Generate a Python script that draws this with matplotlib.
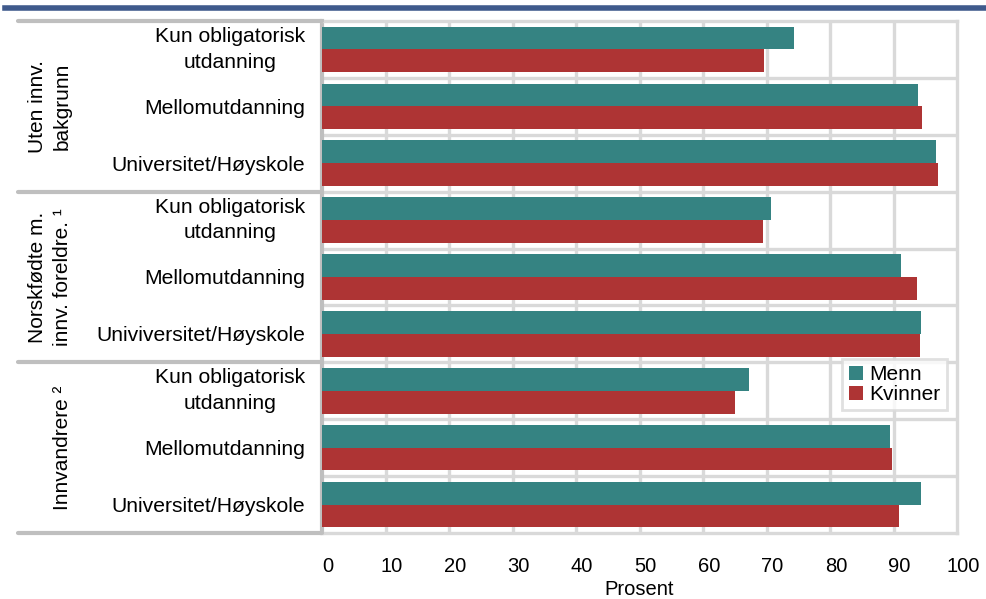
import matplotlib
matplotlib.use("Agg")
import matplotlib.pyplot as plt
import matplotlib.transforms as mtransforms
from matplotlib.lines import Line2D
import numpy as np

plt.rcParams['font.family'] = ['Liberation Sans', 'DejaVu Sans']

# data
groups = ["Uten innv.\nbakgrunn", "Norskfødte m.\ninnv. foreldre. \u00b9", "Innvandrere \u00b2"]
categories = [
    "Kun obligatorisk\nutdanning", "Mellomutdanning", "Universitet/Høyskole",
    "Kun obligatorisk\nutdanning", "Mellomutdanning", "Univiversitet/Høyskole",
    "Kun obligatorisk\nutdanning", "Mellomutdanning", "Universitet/Høyskole",
]
menn = [74.3, 93.9, 96.7, 70.7, 91.2, 94.3, 67.2, 89.5, 94.4]
kvinner = [69.6, 94.5, 97.0, 69.4, 93.7, 94.2, 65.1, 89.7, 90.9]
xticks = list(range(0, 101, 10))

teal = '#358382'
red = '#ae3434'
grid_c = '#d9d9d9'
sep_c = '#bfbfbf'

fig = plt.figure(figsize=(9.86, 5.99), dpi=100)
ax = fig.add_axes([322 / 986, 1 - 533 / 599, 635 / 986, 512 / 599])

y = np.arange(len(categories))
h = 0.4
ax.barh(y - h / 2, menn, height=h, color=teal, label='Menn', zorder=3)
ax.barh(y + h / 2, kvinner, height=h, color=red, label='Kvinner', zorder=3)

ax.set_xlim(0, 100)
ax.set_ylim(len(categories) - 0.5, -0.5)

# grid
for xv in xticks[1:-1]:
    ax.axvline(xv, color=grid_c, lw=2.4, zorder=1)
for yv in np.arange(0.5, len(categories) - 0.5, 1):
    ax.axhline(yv, color=grid_c, lw=2.4, zorder=1)

for s in ['top', 'right', 'bottom']:
    ax.spines[s].set_color(grid_c)
    ax.spines[s].set_linewidth(2.4)
ax.spines['left'].set_color(sep_c)
ax.spines['left'].set_linewidth(3)

ax.set_xticks(xticks)
ax.set_xticklabels([str(v) for v in xticks])
ax.set_yticks(y)
ax.set_yticklabels(categories, multialignment='center', linespacing=1.45)
ax.tick_params(axis='x', length=0, pad=17, labelsize=14.5)
ax.tick_params(axis='y', length=0, pad=12, labelsize=15.2)
ax.set_xlabel('Prosent', fontsize=14.5, labelpad=3)

# two-line labels: centre the whole block on the category
for lbl in ax.get_yticklabels():
    if '\n' in lbl.get_text():
        lbl.set_va('center')

# x tick labels sit a little right of the gridlines in the original
shift = mtransforms.ScaledTranslation(6 / 100, 0, fig.dpi_scale_trans)
for lbl in ax.get_xticklabels():
    lbl.set_transform(lbl.get_transform() + shift)

# group separators on the left
tr = mtransforms.blended_transform_factory(fig.transFigure, ax.transData)
for yb in [-0.5, 2.5, 5.5, 8.5]:
    ax.add_line(Line2D([18 / 986, 322 / 986], [yb, yb], transform=tr, color=sep_c,
                       lw=3, solid_capstyle='round', clip_on=False, zorder=4))

group_x = [50 / 986, 50 / 986, 63 / 986]
for i, g in enumerate(groups):
    ax.text(group_x[i], 3 * i + 1, g, transform=tr, rotation=90, ha='center', va='center',
            fontsize=15, multialignment='center', linespacing=1.4)

leg = ax.legend(loc='upper right', bbox_to_anchor=(0.984, 0.340), borderaxespad=0,
                fontsize=15, fancybox=False, edgecolor=grid_c, handlelength=0.7,
                handleheight=0.7, handletextpad=0.3, labelspacing=0.05, borderpad=0.3)
leg.get_frame().set_linewidth(2)
leg.set_zorder(5)

# blue rule at the top
fig.add_artist(Line2D([0.005, 1], [1 - 8 / 599, 1 - 8 / 599], color='#3f5a8c', lw=4))

fig.savefig('out.png', dpi=100)
